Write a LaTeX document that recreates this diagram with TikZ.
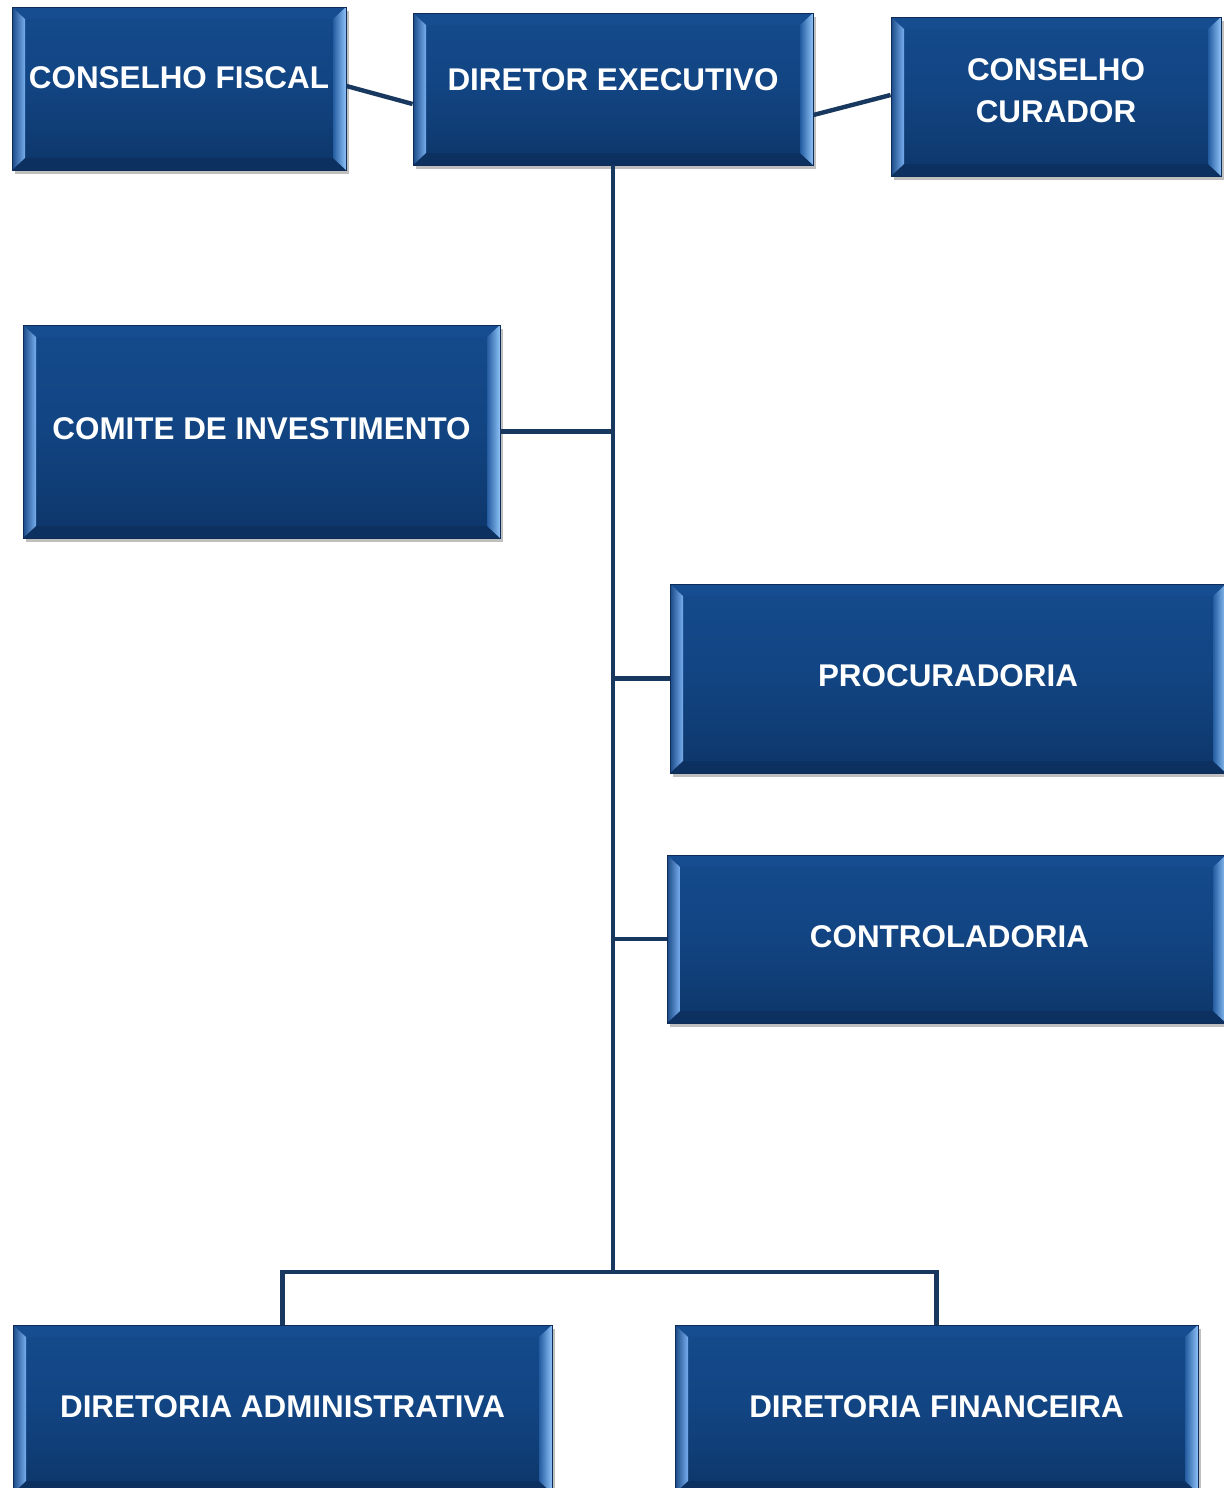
\documentclass[tikz,border=0pt]{standalone}
\usepackage{fontspec}
\setmainfont{Liberation Sans}
\usetikzlibrary{calc,shadows}
\definecolor{boxtop}{RGB}{20,74,140}
\definecolor{boxmid}{RGB}{18,68,130}
\definecolor{boxbot}{RGB}{13,54,105}
\definecolor{boxedge}{RGB}{14,44,86}
\definecolor{bevLo}{RGB}{26,72,134}
\definecolor{bevLi}{RGB}{120,175,238}
\definecolor{bevRi}{RGB}{36,92,160}
\definecolor{bevRo}{RGB}{142,194,247}
\definecolor{bevTop}{RGB}{22,77,144}
\definecolor{bevBot}{RGB}{12,49,96}
\definecolor{wire}{RGB}{24,56,96}
\newcommand\lbl[2]{\raisebox{#1}[0pt][0pt]{#2}}
\tikzset{
  orgbox/.style 2 args={
    rectangle, draw=boxedge, line width=0.4pt,
    minimum width={#1*0.5pt}, minimum height={#2*0.5pt},
    inner sep=0pt, text=white,
    font=\bfseries\fontsize{15.7}{21}\selectfont,
    top color=boxtop, bottom color=boxbot, middle color=boxmid,
    drop shadow={shadow xshift=1.6pt, shadow yshift=-1.8pt, fill=black, opacity=0.25},
    path picture={
      \fill[bevTop]
        (path picture bounding box.north west)
        -- (path picture bounding box.north east)
        -- ([shift={(-6.5pt,-6pt)}]path picture bounding box.north east)
        -- ([shift={(6.5pt,-6pt)}]path picture bounding box.north west) -- cycle;
      \fill[bevBot]
        (path picture bounding box.south west)
        -- (path picture bounding box.south east)
        -- ([shift={(-6.5pt,6pt)}]path picture bounding box.south east)
        -- ([shift={(6.5pt,6pt)}]path picture bounding box.south west) -- cycle;
      \shade[left color=bevLo, right color=bevLi]
        (path picture bounding box.north west)
        -- ([shift={(6.5pt,-6pt)}]path picture bounding box.north west)
        -- ([shift={(6.5pt,6pt)}]path picture bounding box.south west)
        -- (path picture bounding box.south west) -- cycle;
      \shade[left color=bevRi, right color=bevRo]
        (path picture bounding box.north east)
        -- ([shift={(-6.5pt,-6pt)}]path picture bounding box.north east)
        -- ([shift={(-6.5pt,6pt)}]path picture bounding box.south east)
        -- (path picture bounding box.south east) -- cycle;
    }
  },
  link/.style={draw=wire, line width=2.2pt}
}
\begin{document}
\begin{tikzpicture}[x=0.5pt, y=-0.5pt]
\useasboundingbox (0,0) rectangle (1224,1488);
\clip (0,0) rectangle (1224,1488);
\fill[white] (0,0) rectangle (1224,1488);

\coordinate (bus) at (613,1272);

\node[orgbox={334}{163}] (fiscal) at (179,88.5) {\lbl{0pt}{CONSELHO FISCAL}};
\node[orgbox={400}{152}] (diretor) at (613,89) {\lbl{-0.6pt}{DIRETOR EXECUTIVO}};
\node[orgbox={330}{159}] (curador) at (1056,96.5) {\lbl{8.15pt}{\begin{tabular}[t]{@{}c@{}}CONSELHO\\CURADOR\end{tabular}}};
\node[orgbox={477}{213}] (comite) at (261.5,431.5) {\lbl{-3.85pt}{COMITE DE INVESTIMENTO}};
\node[orgbox={556}{189}] (procur) at (948,678.5) {\lbl{-3.85pt}{PROCURADORIA}};
\node[orgbox={559}{168}] (control) at (946.5,939) {\lbl{-4.1pt}{\hspace*{3pt}CONTROLADORIA}};
\node[orgbox={539}{168}] (diradm) at (282.5,1409) {\lbl{-4.1pt}{DIRETORIA ADMINISTRATIVA}};
\node[orgbox={523}{168}] (dirfin) at (936.5,1409) {\lbl{-4.1pt}{DIRETORIA FINANCEIRA}};

\draw[link] ([yshift=1.25pt]fiscal.east) -- ([yshift=-7.5pt]diretor.west);
\draw[link] ([yshift=-13pt]diretor.east) -- ([yshift=0.75pt]curador.west);
\draw[link] (diretor.south) -- (bus);
\draw[link] (comite.east) -- (comite.east -| diretor.south);
\draw[link] (procur.west) -- (procur.west -| diretor.south);
\draw[link] (control.west) -- (control.west -| diretor.south);
\draw[link] (diradm.north) |- (bus) -| (dirfin.north);
\end{tikzpicture}
\end{document}
